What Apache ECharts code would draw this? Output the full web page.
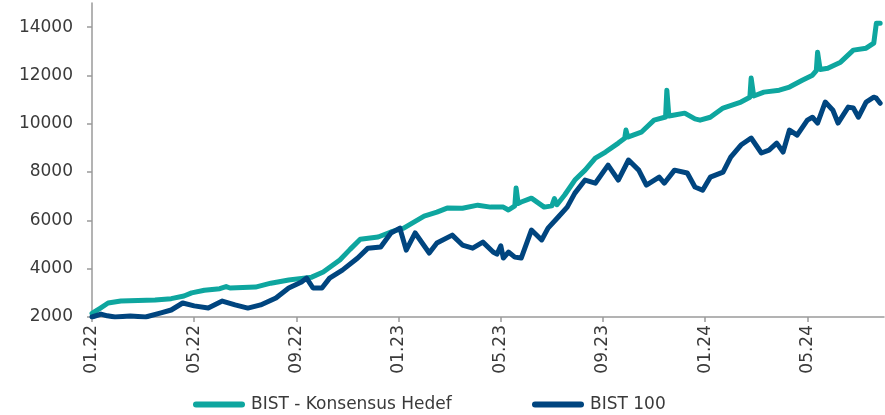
<!DOCTYPE html>
<html>
<head>
<meta charset="utf-8">
<script src="https://cdn.jsdelivr.net/npm/echarts@6/dist/echarts.min.js"></script>
<style>
  html, body { margin: 0; padding: 0; background: #fff; }
  #charts_main { width: 885px; height: 415px; }
</style>
</head>
<body>
<div id="charts_main"></div>
<script>
// x = months since 01.22 (0 = Jan 2022)
const tickMonths = [0, 4, 8, 12, 16, 20, 24, 28];
const tickLabels = ['01.22', '05.22', '09.22', '01.23', '05.23', '09.23', '01.24', '05.24'];
const yTicks = [2000, 4000, 6000, 8000, 10000, 12000, 14000];

// BIST - Konsensus Hedef
const hedefX = [0, 0.3, 0.63, 1.13, 1.8, 2.47, 3.1, 3.6, 3.9, 4.4, 5.0, 5.25, 5.4, 6.4, 7.0, 7.7, 8.2, 8.6,
  9.05, 9.7, 10.1, 10.5, 11.2, 11.7, 12.2, 12.6, 13.0, 13.5, 13.9, 14.5, 15.1, 15.6, 16.1, 16.3, 16.55, 16.6,
  16.68, 16.8, 17.2, 17.7, 18.0, 18.1, 18.2, 18.5, 18.9, 19.3, 19.7, 20.1, 20.6, 20.85, 20.9, 20.97, 21.5,
  22.0, 22.45, 22.5, 22.58, 22.8, 23.2, 23.6, 23.8, 24.2, 24.7, 25.4, 25.75, 25.8, 25.9, 26.3, 26.9, 27.3,
  27.8, 28.2, 28.35, 28.4, 28.5, 28.8, 29.3, 29.8, 30.3, 30.6, 30.7, 30.85];
const hedefY = [2150, 2350, 2580, 2660, 2680, 2700, 2760, 2870, 3000, 3110, 3170, 3260, 3200, 3240, 3400, 3530, 3600, 3650,
  3860, 4360, 4800, 5220, 5310, 5520, 5680, 5930, 6180, 6340, 6510, 6500, 6630, 6550, 6550, 6430, 6600, 7340,
  6700, 6760, 6920, 6550, 6600, 6900, 6650, 7050, 7670, 8080, 8580, 8830, 9200, 9400, 9740, 9450, 9650,
  10150, 10280, 11390, 10320, 10360, 10440, 10200, 10150, 10270, 10650, 10900, 11100, 11890, 11150, 11310, 11390, 11520,
  11800, 12010, 12200, 12960, 12250, 12300, 12550, 13050, 13130, 13340, 14160, 14160];

// BIST 100
const bistX = [0, 0.35, 0.6, 0.9, 1.5, 2.1, 2.7, 3.1, 3.55, 4.0, 4.55, 5.1, 5.6, 6.1, 6.6, 7.2, 7.7, 8.2, 8.4,
  8.65, 9.0, 9.3, 9.8, 10.4, 10.8, 11.3, 11.7, 12.05, 12.3, 12.65, 13.2, 13.5, 14.1, 14.5, 14.9, 15.3, 15.7,
  15.85, 16.0, 16.1, 16.3, 16.55, 16.8, 17.2, 17.6, 17.85, 18.25, 18.6, 18.9, 19.3, 19.7, 20.2, 20.6, 21.0,
  21.4, 21.7, 22.2, 22.4, 22.8, 23.3, 23.6, 23.9, 24.2, 24.7, 25.0, 25.4, 25.8, 26.2, 26.5, 26.8, 27.05, 27.3,
  27.6, 28.0, 28.2, 28.4, 28.7, 29.0, 29.2, 29.6, 29.8, 30.0, 30.3, 30.6, 30.7, 30.85];
const bistY = [2000, 2120, 2050, 2000, 2040, 2000, 2170, 2290, 2580, 2460, 2370, 2660, 2500, 2370, 2500, 2790, 3200, 3450, 3610,
  3200, 3200, 3610, 3940, 4440, 4850, 4900, 5480, 5680, 4770, 5480, 4650, 5060, 5390, 4980, 4850, 5100, 4690,
  4600, 4950, 4440, 4690, 4480, 4440, 5600, 5190, 5680, 6140, 6550, 7130, 7670, 7540, 8290, 7670, 8500,
  8080, 7460, 7790, 7540, 8080, 7960, 7380, 7250, 7790, 8000, 8620, 9120, 9410, 8790, 8910, 9200, 8830, 9740,
  9530, 10150, 10270, 10030, 10900, 10560, 10030, 10690, 10650, 10270, 10900, 11100, 11060, 10850];

function init() {
  let Chart = echarts.init(document.getElementById('charts_main'));
  const font = 'DejaVu Sans';
  const textColor = '#3a3a3a';
  const axisColor = '#9a9a9a';
  const teal = '#0ea69f';
  const navy = '#00457f';
  const legendIcon = 'path://M3,0 H49 A3,3 0 0 1 49,6 H3 A3,3 0 0 1 3,0 Z';

  let option = {
    animation: false,
    grid: { left: 92, right: 1, top: 3, bottom: 98 },
    legend: [
      {
        data: ['BIST - Konsensus Hedef'],
        left: 188, top: 391,
        icon: legendIcon, itemWidth: 52, itemHeight: 6,
        textStyle: { fontFamily: font, fontSize: 17, color: textColor, padding: [0, 0, 0, 1] }
      },
      {
        data: ['BIST 100'],
        left: 527, top: 391,
        icon: legendIcon, itemWidth: 52, itemHeight: 6,
        textStyle: { fontFamily: font, fontSize: 17, color: textColor, padding: [0, 0, 0, 1] }
      }
    ],
    xAxis: {
      type: 'value',
      min: 0, max: 31,
      splitLine: { show: false },
      axisLine: { lineStyle: { color: axisColor, width: 1.5 } },
      axisTick: { customValues: tickMonths, length: 5, lineStyle: { color: axisColor, width: 1.5 } },
      axisLabel: {
        customValues: tickMonths,
        rotate: 90,
        margin: 8,
        fontFamily: font, fontSize: 17, color: textColor,
        formatter: function (v) { return tickLabels[tickMonths.indexOf(v)]; }
      }
    },
    yAxis: {
      type: 'value',
      min: 2000, max: 15000,
      splitLine: { show: false },
      axisLine: { show: true, lineStyle: { color: axisColor, width: 1.5 } },
      axisTick: { show: true, customValues: yTicks, length: 5, lineStyle: { color: axisColor, width: 1.5 } },
      axisLabel: {
        customValues: yTicks,
        margin: 19,
        fontFamily: font, fontSize: 17, color: textColor,
        formatter: function (v) { return String(v); }
      }
    },
    series: [
      {
        name: 'BIST - Konsensus Hedef',
        type: 'line',
        showSymbol: false,
        color: teal,
        lineStyle: { width: 5, color: teal, cap: 'round', join: 'round' },
        data: hedefX.map((x, i) => [x, hedefY[i]])
      },
      {
        name: 'BIST 100',
        type: 'line',
        showSymbol: false,
        color: navy,
        lineStyle: { width: 5, color: navy, cap: 'round', join: 'round' },
        data: bistX.map((x, i) => [x, bistY[i]])
      }
    ]
  };
  Chart.setOption(option);
}

init();
</script>
</body>
</html>
